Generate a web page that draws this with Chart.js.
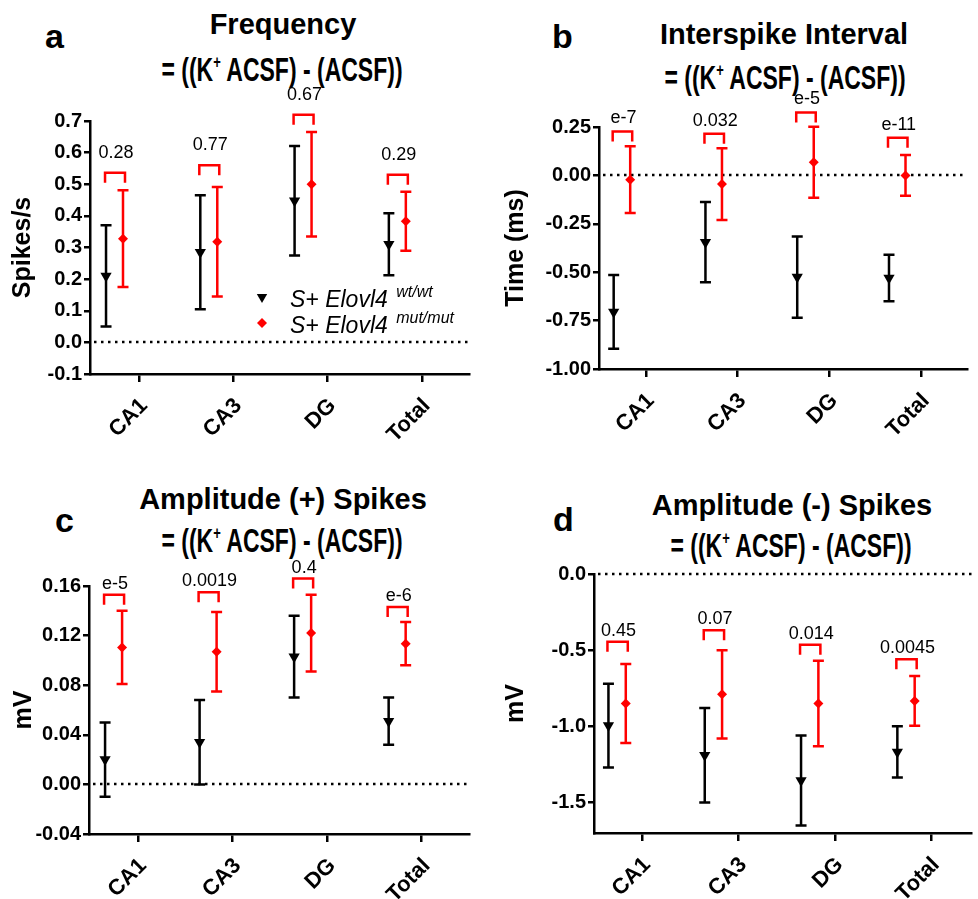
<!DOCTYPE html>
<html>
<head>
<meta charset="utf-8">
<script src="https://cdn.jsdelivr.net/npm/chart.js@4.4.1/dist/chart.umd.min.js"></script>
<style>
body { margin: 0; background: #fff; }
#wrap { position: relative; width: 978px; height: 899px; overflow: hidden; font-family: Arial, "Liberation Sans", sans-serif; color: #000; }
canvas { position: absolute; }
.letter { position: absolute; font-weight: bold; font-size: 34px; line-height: 34px; }
.title { position: absolute; width: 400px; text-align: center; font-weight: bold; font-size: 29px; line-height: 29px; white-space: nowrap; }
.sub { position: absolute; width: 400px; text-align: center; font-weight: bold; font-size: 23px; line-height: 23px; white-space: nowrap; transform: scaleY(1.45); }
.sub sup { font-size: 13px; vertical-align: 9px; line-height: 0; }
</style>
</head>
<body>
<div id="wrap">
  <div class="letter" style="left:45px;top:19px">a</div>
  <div class="title" style="left:83px;top:10px">Frequency</div>
  <div class="sub" style="left:82px;top:59px">= ((K<sup>+</sup> ACSF) - (ACSF))</div>

  <div class="letter" style="left:552px;top:19px">b</div>
  <div class="title" style="left:584px;top:20px">Interspike Interval</div>
  <div class="sub" style="left:585px;top:67px">= ((K<sup>+</sup> ACSF) - (ACSF))</div>

  <div class="letter" style="left:55px;top:503px">c</div>
  <div class="title" style="left:83px;top:485px">Amplitude (+) Spikes</div>
  <div class="sub" style="left:82px;top:530px">= ((K<sup>+</sup> ACSF) - (ACSF))</div>

  <div class="letter" style="left:553px;top:502px">d</div>
  <div class="title" style="left:592px;top:491px">Amplitude (-) Spikes</div>
  <div class="sub" style="left:591px;top:535px">= ((K<sup>+</sup> ACSF) - (ACSF))</div>

  <canvas id="chartA" width="489" height="450" style="left:0;top:0"></canvas>
  <canvas id="chartB" width="489" height="450" style="left:489px;top:0"></canvas>
  <canvas id="chartC" width="489" height="449" style="left:0;top:450px"></canvas>
  <canvas id="chartD" width="489" height="449" style="left:489px;top:450px"></canvas>
</div>
<script>
const categories = ['CA1', 'CA3', 'DG', 'Total'];

// a - Frequency (Spikes/s)
const freqWtMean = [0.21, 0.285, 0.448, 0.31];
const freqWtErr = [0.16, 0.18, 0.173, 0.098];
const freqMutMean = [0.328, 0.318, 0.50, 0.383];
const freqMutErr = [0.153, 0.173, 0.165, 0.093];
const freqBracket = [0.536, 0.56, 0.72, 0.53];
const freqP = ['0.28', '0.77', '0.67', '0.29'];
const freqTicks = [-0.1, 0, 0.1, 0.2, 0.3, 0.4, 0.5, 0.6, 0.7];

// b - Interspike interval (ms)
const isiWtMean = [-0.705, -0.345, -0.525, -0.53];
const isiWtErr = [0.19, 0.207, 0.21, 0.12];
const isiMutMean = [-0.022, -0.045, 0.068, 0.0];
const isiMutErr = [0.172, 0.185, 0.183, 0.105];
const isiBracket = [0.227, 0.215, 0.325, 0.195];
const isiP = ['e-7', '0.032', 'e-5', 'e-11'];
const isiTicks = [-1.0, -0.75, -0.5, -0.25, 0, 0.25];

// c - Amplitude (+) spikes (mV)
const ampPosWtMean = [0.020, 0.034, 0.103, 0.051];
const ampPosWtErr = [0.030, 0.034, 0.033, 0.019];
const ampPosMutMean = [0.1105, 0.107, 0.122, 0.1135];
const ampPosMutErr = [0.0295, 0.032, 0.031, 0.0175];
const ampPosBracket = [0.153, 0.155, 0.166, 0.143];
const ampPosP = ['e-5', '0.0019', '0.4', 'e-6'];
const ampPosTicks = [-0.04, 0, 0.04, 0.08, 0.12, 0.16];

// d - Amplitude (-) spikes (mV)
const ampNegWtMean = [-0.995, -1.19, -1.355, -1.168];
const ampNegWtErr = [0.275, 0.31, 0.295, 0.168];
const ampNegMutMean = [-0.85, -0.79, -0.85, -0.833];
const ampNegMutErr = [0.26, 0.29, 0.28, 0.163];
const ampNegBracket = [-0.445, -0.37, -0.465, -0.56];
const ampNegP = ['0.45', '0.07', '0.014', '0.0045'];
const ampNegTicks = [-1.5, -1.0, -0.5, 0];

const FONT = 'Arial, "Liberation Sans", sans-serif';
Chart.defaults.font.family = FONT;
Chart.defaults.color = '#000';

const WT_OFF = -0.35;
const MUT_OFF = -0.17;

const marksPlugin = {
  id: 'marks',
  beforeDatasetsDraw(chart, args, opts) {
    const ctx = chart.ctx;
    const y = chart.scales.y;
    const area = chart.chartArea;
    // dotted zero line
    ctx.save();
    ctx.strokeStyle = '#000';
    ctx.lineWidth = 2.5;
    ctx.setLineDash([2.5, 4.5]);
    const y0 = Math.round(y.getPixelForValue(0));
    ctx.beginPath();
    ctx.moveTo(area.left + 4, y0);
    ctx.lineTo(area.right, y0);
    ctx.stroke();
    ctx.restore();
    // error bars
    chart.data.datasets.forEach((ds, di) => {
      const meta = chart.getDatasetMeta(di);
      ctx.save();
      ctx.strokeStyle = ds.borderColor;
      ctx.lineWidth = 2.5;
      meta.data.forEach((pt, i) => {
        const m = ds.data[i].y;
        const hi = y.getPixelForValue(m + ds.err[i]);
        const lo = y.getPixelForValue(m - ds.err[i]);
        ctx.beginPath();
        ctx.moveTo(pt.x, hi); ctx.lineTo(pt.x, lo);
        ctx.moveTo(pt.x - 5.5, hi); ctx.lineTo(pt.x + 5.5, hi);
        ctx.moveTo(pt.x - 5.5, lo); ctx.lineTo(pt.x + 5.5, lo);
        ctx.stroke();
      });
      ctx.restore();
    });
  },
  afterDatasetsDraw(chart, args, opts) {
    const ctx = chart.ctx;
    const x = chart.scales.x, y = chart.scales.y;
    ctx.save();
    ctx.strokeStyle = '#f00';
    ctx.lineWidth = 2.5;
    opts.bracket.forEach((b, i) => {
      const xa = x.getPixelForValue(i + WT_OFF) - 1;
      const xb = x.getPixelForValue(i + MUT_OFF) + 2;
      const yb = y.getPixelForValue(b);
      ctx.beginPath();
      ctx.moveTo(xa, yb + 10); ctx.lineTo(xa, yb); ctx.lineTo(xb, yb); ctx.lineTo(xb, yb + 10);
      ctx.stroke();
      ctx.fillStyle = '#000';
      ctx.font = '18px ' + FONT;
      ctx.textAlign = 'center';
      ctx.textBaseline = 'middle';
      ctx.fillText(opts.p[i], (xa + xb) / 2 + 1, yb - opts.pOffset);
    });
    ctx.restore();

    if (opts.legend) {
      ctx.save();
      const items = [
        {style: 'triangle', rot: 180, r: 6, color: '#000', sup: 'wt/wt', y: 297},
        {style: 'rectRot', rot: 0, r: 5, color: '#f00', sup: 'mut/mut', y: 323}
      ];
      items.forEach(it => {
        ctx.fillStyle = it.color;
        ctx.strokeStyle = it.color;
        Chart.helpers.drawPoint(ctx, {pointStyle: it.style, rotation: it.rot, radius: it.r, borderWidth: 0}, 262, it.y);
        ctx.fillStyle = '#000';
        ctx.textAlign = 'left';
        ctx.textBaseline = 'alphabetic';
        ctx.font = 'italic 23px ' + FONT;
        const main = 'S+ Elovl4 ';
        ctx.fillText(main, 290, it.y + 10);
        const w = ctx.measureText(main).width;
        ctx.font = 'italic 16px ' + FONT;
        ctx.fillText(it.sup, 290 + w + 2, it.y);
      });
      ctx.restore();
    }
  }
};

function makePanel(id, cfg) {
  const canvas = document.getElementById(id);
  const W = canvas.width, H = canvas.height;
  const A = cfg.area;
  const wt = cfg.wtMean.map((m, i) => ({x: i + WT_OFF, y: m}));
  const mut = cfg.mutMean.map((m, i) => ({x: i + MUT_OFF, y: m}));
  return new Chart(canvas.getContext('2d'), {
    type: 'scatter',
    data: {
      datasets: [
        {data: wt, err: cfg.wtErr, pointStyle: 'triangle', pointRotation: 180, pointRadius: 6.5,
         backgroundColor: '#000', borderColor: '#000', borderWidth: 0, clip: false},
        {data: mut, err: cfg.mutErr, pointStyle: 'rectRot', pointRadius: 5,
         backgroundColor: '#f00', borderColor: '#f00', borderWidth: 0, clip: false}
      ]
    },
    plugins: [marksPlugin],
    options: {
      responsive: false,
      animation: false,
      events: [],
      layout: {padding: {left: 0, top: A.top, right: W - A.right, bottom: 0}},
      plugins: {
        legend: {display: false},
        tooltip: {enabled: false},
        marks: {bracket: cfg.bracket, p: cfg.p, pOffset: cfg.pOffset, legend: !!cfg.legend}
      },
      scales: {
        x: {
          type: 'linear',
          min: cfg.xMin,
          max: cfg.xMax,
          afterBuildTicks: s => { s.ticks = categories.map((c, i) => ({value: i})); },
          afterFit: s => { s.height = H - A.bottom; },
          ticks: {
            autoSkip: false, minRotation: 45, maxRotation: 45, padding: 11, labelOffset: 5,
            color: '#000', font: {size: 22, weight: 'bold'},
            callback: v => categories[v]
          },
          grid: {drawOnChartArea: false, drawTicks: true, tickLength: 8, color: '#000', lineWidth: 2.5},
          border: {display: true, color: '#000', width: 2.5}
        },
        y: {
          type: 'linear',
          min: cfg.yMin,
          max: cfg.yMax,
          afterBuildTicks: s => { s.ticks = cfg.yTicks.map(v => ({value: v})); },
          afterFit: s => { s.width = A.left; },
          ticks: {
            padding: 2, color: '#000', font: {size: 20, weight: 'bold'},
            callback: v => v.toFixed(cfg.decimals)
          },
          grid: {drawOnChartArea: false, drawTicks: true, tickLength: 6, color: '#000', lineWidth: 2.5},
          border: {display: true, color: '#000', width: 2.5},
          title: {
            display: true, text: cfg.yTitle, color: '#000',
            font: {size: 25, weight: 'bold'},
            padding: {top: cfg.titlePad, bottom: 0}
          }
        }
      }
    }
  });
}

makePanel('chartA', {
  wtMean: freqWtMean, wtErr: freqWtErr, mutMean: freqMutMean, mutErr: freqMutErr,
  bracket: freqBracket, p: freqP, yTicks: freqTicks, yMin: -0.1, yMax: 0.7, decimals: 1,
  yTitle: 'Spikes/s', area: {left: 90, top: 121, right: 469, bottom: 374},
  xMin: -0.52, xMax: 3.5, pOffset: 20, titlePad: 8, legend: true
});

makePanel('chartB', {
  wtMean: isiWtMean, wtErr: isiWtErr, mutMean: isiMutMean, mutErr: isiMutErr,
  bracket: isiBracket, p: isiP, yTicks: isiTicks, yMin: -1.0, yMax: 0.25, decimals: 2,
  yTitle: 'Time (ms)', area: {left: 110, top: 127, right: 478, bottom: 369},
  xMin: -0.51, xMax: 3.5, pOffset: 13, titlePad: 12
});

makePanel('chartC', {
  wtMean: ampPosWtMean, wtErr: ampPosWtErr, mutMean: ampPosMutMean, mutErr: ampPosMutErr,
  bracket: ampPosBracket, p: ampPosP, yTicks: ampPosTicks, yMin: -0.04, yMax: 0.16, decimals: 2,
  yTitle: 'mV', area: {left: 89, top: 136, right: 469, bottom: 384},
  xMin: -0.52, xMax: 3.5, pOffset: 11, titlePad: 9
});

makePanel('chartD', {
  wtMean: ampNegWtMean, wtErr: ampNegWtErr, mutMean: ampNegMutMean, mutErr: ampNegMutErr,
  bracket: ampNegBracket, p: ampNegP, yTicks: ampNegTicks, yMin: -1.7, yMax: 0, decimals: 1,
  yTitle: 'mV', area: {left: 105, top: 124, right: 489, bottom: 383},
  xMin: -0.5, xMax: 3.42, pOffset: 11, titlePad: 12
});
</script>
</body>
</html>
